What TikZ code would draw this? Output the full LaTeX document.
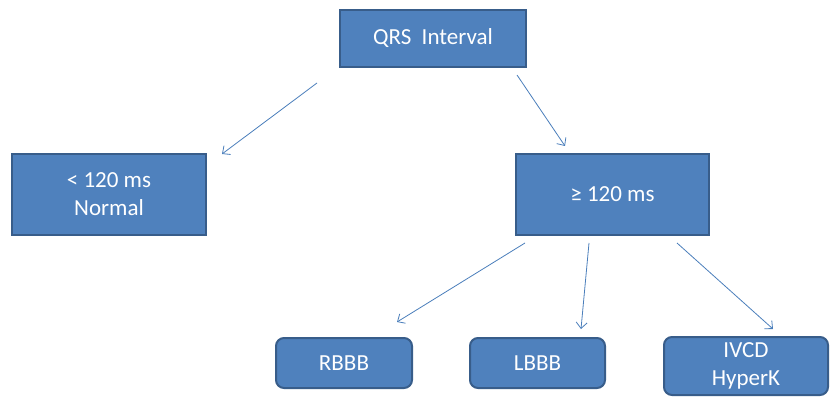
\documentclass[tikz,border=0pt]{standalone}
\usepackage{fontspec}
\setmainfont{Carlito}
\usetikzlibrary{arrows.meta}
\definecolor{boxfill}{HTML}{4F81BD}
\definecolor{boxline}{HTML}{385D8A}
\definecolor{arrowcol}{HTML}{4A7EBB}
\tikzset{
  box/.style={draw=boxline, fill=boxfill, line width=2pt, text=white, align=center,
    inner sep=0pt, font=\fontsize{23}{28}\selectfont},
  rbox/.style={box, rounded corners=8pt},
  conn/.style={draw=arrowcol, line width=0.8pt, -{Straight Barb[length=6pt,width=11pt,line width=0.8pt]}}
}
\begin{document}
\begin{tikzpicture}[x=1pt,y=-1pt]
\useasboundingbox (0,0) rectangle (830,398);
\node[box, minimum width=186pt, minimum height=57pt] (qrs) at (433,38.5) {QRS\ \ Interval};
\node[box, minimum width=194pt, minimum height=81pt] (lt) at (109,194.5) {< 120 ms\\Normal};
\node[box, minimum width=193pt, minimum height=81pt] (ge) at (612.5,194.5) {≥ 120 ms};
\node[rbox, minimum width=136pt, minimum height=50pt] (rbbb) at (344,363) {RBBB};
\node[rbox, minimum width=135pt, minimum height=50pt] (lbbb) at (537.5,363) {LBBB};
\node[rbox, minimum width=164pt, minimum height=58pt] (ivcd) at (746,366) {IVCD\\HyperK};
\coordinate (a1s) at (317,83);  \coordinate (a1e) at (222,154);
\coordinate (a2s) at (517,75);  \coordinate (a2e) at (565,146);
\coordinate (a3s) at (525,243); \coordinate (a3e) at (397,322);
\coordinate (a4s) at (589,243); \coordinate (a4e) at (581,329);
\coordinate (a5s) at (677,243); \coordinate (a5e) at (773,329);
\draw[conn] (a1s) -- (a1e);
\draw[conn] (a2s) -- (a2e);
\draw[conn] (a3s) -- (a3e);
\draw[conn] (a4s) -- (a4e);
\draw[conn] (a5s) -- (a5e);
\end{tikzpicture}
\end{document}
